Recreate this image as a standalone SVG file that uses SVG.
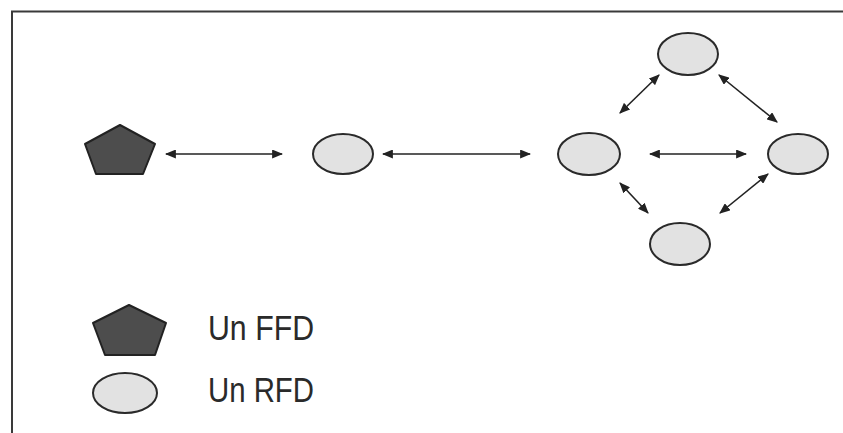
<svg xmlns="http://www.w3.org/2000/svg" width="843" height="433" viewBox="0 0 843 433">
  <style>
    .frame { fill: none; stroke: #3a3a3a; stroke-width: 2; }
    .ffd { fill: #4d4d4d; stroke: #222; stroke-width: 2; stroke-linejoin: round; }
    .rfd { fill: #e2e2e2; stroke: #2a2a2a; stroke-width: 2; }
    .link { stroke: #222; stroke-width: 1.6; fill: none; marker-start: url(#head); marker-end: url(#head); }
    .label { font-family: "Liberation Sans", Arial, sans-serif; font-size: 35px; fill: #2a2a2a; }
  </style>
  <defs>
    <marker id="head" viewBox="0 0 10 10" refX="9" refY="5" markerWidth="11" markerHeight="9" markerUnits="userSpaceOnUse" orient="auto-start-reverse" preserveAspectRatio="none">
      <path d="M0,0 L10,5 L0,10 z" fill="#222"/>
    </marker>
  </defs>
  <rect width="843" height="433" fill="#fff"/>

  <!-- outer frame: top and left edges -->
  <path class="frame" d="M12,433 V11.5 H843"/>

  <!-- connectors -->
  <g id="links">
    <line class="link" x1="166" y1="154" x2="282" y2="154"/>
    <line class="link" x1="383" y1="154" x2="530" y2="154"/>
    <line class="link" x1="620" y1="113" x2="659" y2="75"/>
    <line class="link" x1="719" y1="75" x2="777" y2="122"/>
    <line class="link" x1="650" y1="154" x2="746" y2="154"/>
    <line class="link" x1="620" y1="183" x2="648" y2="213"/>
    <line class="link" x1="768" y1="174" x2="720" y2="213"/>
  </g>

  <!-- network nodes -->
  <g id="ffd-node">
    <polygon class="ffd" points="120,125 155,144 143,174 96,174 85,144"/>
  </g>
  <g id="rfd-1">
    <ellipse class="rfd" cx="343" cy="154" rx="30" ry="20"/>
  </g>
  <g id="rfd-2">
    <ellipse class="rfd" cx="589" cy="154" rx="31" ry="21"/>
  </g>
  <g id="rfd-top">
    <ellipse class="rfd" cx="688" cy="54" rx="30" ry="21"/>
  </g>
  <g id="rfd-right">
    <ellipse class="rfd" cx="798" cy="154" rx="30" ry="20"/>
  </g>
  <g id="rfd-bottom">
    <ellipse class="rfd" cx="680" cy="244" rx="30" ry="21"/>
  </g>

  <!-- legend -->
  <g id="legend-ffd">
    <polygon class="ffd" points="129,305 166,323 155,355 105,355 93,323"/>
    <text class="label" x="208" y="340" textLength="106" lengthAdjust="spacingAndGlyphs">Un FFD</text>
  </g>
  <g id="legend-rfd">
    <ellipse class="rfd" cx="125" cy="393" rx="32" ry="20"/>
    <text class="label" x="208" y="402" textLength="106" lengthAdjust="spacingAndGlyphs">Un RFD</text>
  </g>
</svg>
